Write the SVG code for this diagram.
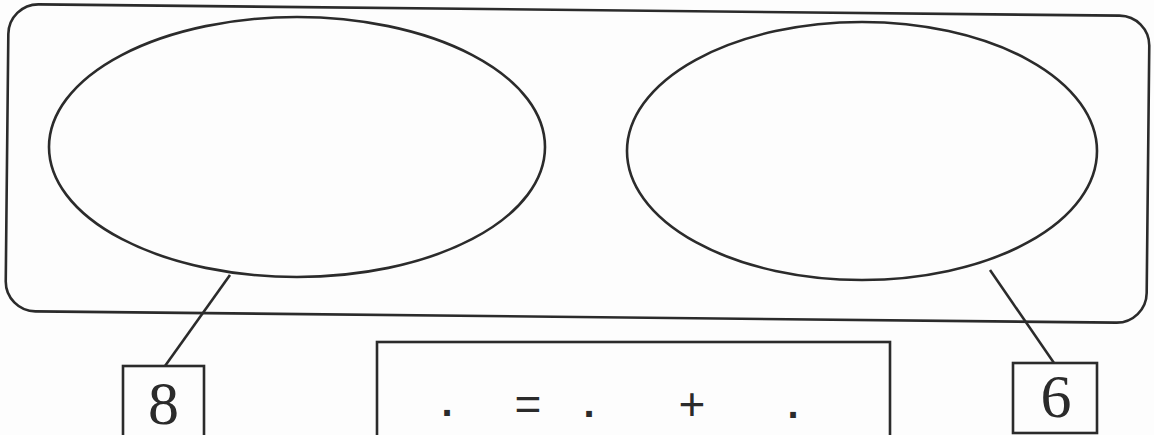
<svg xmlns="http://www.w3.org/2000/svg" width="1154" height="435" viewBox="0 0 1154 435">
  <style>
    .ln { fill: none; stroke: #2b2b2b; stroke-width: 2.6; }
    .num { font-family: "Liberation Serif", serif; font-size: 62px; fill: #2b2b2b; text-anchor: middle; }
    .op { font-family: "Liberation Sans", sans-serif; font-size: 46px; fill: #2b2b2b; text-anchor: middle; }
    .dot { font-size: 40px; font-weight: bold; }
  </style>
  <rect width="1154" height="435" fill="#fdfdfd"/>
  <g id="frame">
    <rect class="ln" x="7" y="10" width="1141" height="307" rx="30" transform="rotate(0.6 577 164)"/>
  </g>
  <g id="set-left">
    <ellipse class="ln" cx="297" cy="147" rx="248" ry="130"/>
  </g>
  <g id="set-right">
    <ellipse class="ln" cx="862" cy="151" rx="235" ry="129"/>
  </g>
  <g id="connectors">
    <line class="ln" x1="230" y1="275" x2="165" y2="366"/>
    <line class="ln" x1="990" y1="270" x2="1054" y2="363"/>
  </g>
  <g id="label-8">
    <rect class="ln" x="123" y="366" width="81" height="90"/>
    <text class="num" x="163.5" y="424">8</text>
  </g>
  <g id="label-6">
    <rect class="ln" x="1013" y="363" width="84" height="70"/>
    <text class="num" x="1056" y="417">6</text>
  </g>
  <g id="equation">
    <rect class="ln" x="377" y="342" width="513" height="110"/>
    <text class="op dot" x="447" y="416">.</text>
    <text class="op" x="528" y="420">=</text>
    <text class="op dot" x="589" y="417">.</text>
    <text class="op" x="692" y="420">+</text>
    <text class="op dot" x="793" y="418">.</text>
  </g>
</svg>
